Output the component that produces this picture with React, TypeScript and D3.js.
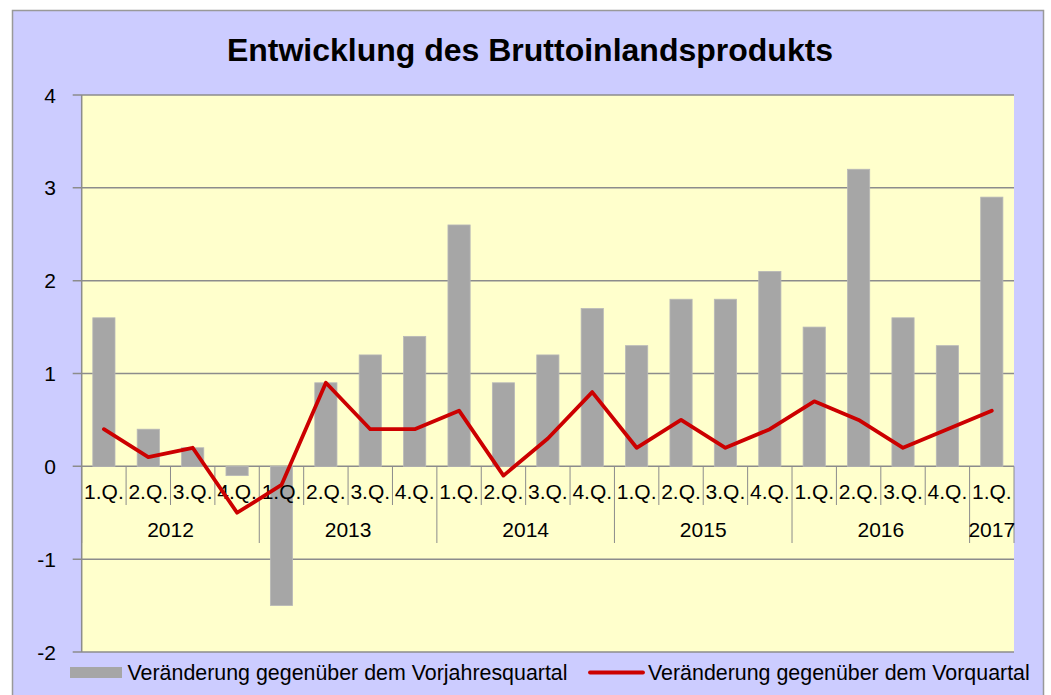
import React from "react";
import * as d3 from "d3";

const years = ["2012", "2013", "2014", "2015", "2016", "2017"];
const quarterLabels = ["1.Q.", "2.Q.", "3.Q.", "4.Q."];
const categories = [
  "2012-1", "2012-2", "2012-3", "2012-4",
  "2013-1", "2013-2", "2013-3", "2013-4",
  "2014-1", "2014-2", "2014-3", "2014-4",
  "2015-1", "2015-2", "2015-3", "2015-4",
  "2016-1", "2016-2", "2016-3", "2016-4",
  "2017-1",
];
const vorjahr = [1.6, 0.4, 0.2, -0.1, -1.5, 0.9, 1.2, 1.4, 2.6, 0.9, 1.2, 1.7, 1.3, 1.8, 1.8, 2.1, 1.5, 3.2, 1.6, 1.3, 2.9];
const vorquartal = [0.4, 0.1, 0.2, -0.5, -0.2, 0.9, 0.4, 0.4, 0.6, -0.1, 0.3, 0.8, 0.2, 0.5, 0.2, 0.4, 0.7, 0.5, 0.2, 0.4, 0.6];
const yTicks = [-2, -1, 0, 1, 2, 3, 4];
const title = "Entwicklung des Bruttoinlandsprodukts";
const legendBar = "Veränderung gegenüber dem Vorjahresquartal";
const legendLine = "Veränderung gegenüber dem Vorquartal";

const W = 1051;
const H = 695;
const FONT = "'Liberation Sans', Arial, sans-serif";

export default function App() {
  const left = 81.7, right = 1014, top = 95, bottom = 652;
  const x = d3.scaleBand<string>().domain(categories).range([left, right]).paddingInner(0).paddingOuter(0);
  const y = d3.scaleLinear().domain([-2, 4]).range([bottom, top]);
  const bw = x.bandwidth();
  const barW = bw * 0.5;
  const y0 = y(0);
  const line = d3.line<number>()
    .x((_, i) => (x(categories[i]) as number) + bw / 2)
    .y((d) => y(d));
  const gridColor = "#8c8c8c";

  const yearGroups = years.map((yr) => {
    const idx = categories.map((c, i) => (c.startsWith(yr) ? i : -1)).filter((i) => i >= 0);
    const x0 = x(categories[idx[0]]) as number;
    const x1 = (x(categories[idx[idx.length - 1]]) as number) + bw;
    return { yr, x0, x1 };
  });

  return (
    <svg width={W} height={H} style={{ position: "absolute", left: 0, top: 0, background: "#fff" }}>
      <rect x={12.5} y={10.5} width={1031} height={700} fill="#ccccff" stroke="#999" strokeWidth={1.5} />
      <text x={530} y={61} textAnchor="middle" fontFamily={FONT} fontWeight="bold" fontSize={32}>{title}</text>
      <rect x={left} y={top} width={right - left} height={bottom - top} fill="#ffffcc" />
      {yTicks.map((t) => (
        <g key={t}>
          <line x1={left - 9} x2={right} y1={y(t)} y2={y(t)} stroke={gridColor} strokeWidth={1.5} />
          <text x={56} y={y(t) + 7.5} textAnchor="end" fontFamily={FONT} fontSize={21}>{t}</text>
        </g>
      ))}
      {vorjahr.map((v, i) => (
        <rect key={i} x={(x(categories[i]) as number) + (bw - barW) / 2} y={Math.min(y(v), y0)} width={barW} height={Math.abs(y(v) - y0)} fill="#a6a6a6" stroke="#b8b8b8" strokeWidth={0.8} />
      ))}
      <line x1={left} x2={left} y1={top} y2={bottom} stroke={gridColor} strokeWidth={1.5} />
      {categories.map((c) => {
        const xx = x(c) as number;
        const isYear = c.endsWith("-1");
        return <line key={c} x1={xx} x2={xx} y1={y0} y2={isYear ? 543 : 505} stroke={gridColor} strokeWidth={1} />;
      })}
      <line x1={right} x2={right} y1={y0} y2={543} stroke={gridColor} strokeWidth={1} />
      {categories.map((c, i) => (
        <text key={c} x={(x(c) as number) + bw / 2} y={499} textAnchor="middle" fontFamily={FONT} fontSize={21}>{quarterLabels[i % 4]}</text>
      ))}
      {yearGroups.map((g) => (
        <text key={g.yr} x={(g.x0 + g.x1) / 2} y={537} textAnchor="middle" fontFamily={FONT} fontSize={21}>{g.yr}</text>
      ))}
      <path d={line(vorquartal) || ""} fill="none" stroke="#cc0000" strokeWidth={3.8} strokeLinejoin="round" strokeLinecap="round" />
      <rect x={70} y={667} width={52} height={11} fill="#a6a6a6" />
      <text x={127.5} y={680} fontFamily={FONT} fontSize={21.4}>{legendBar}</text>
      <line x1={590} x2={643} y1={672.5} y2={672.5} stroke="#cc0000" strokeWidth={3.8} strokeLinecap="round" />
      <text x={648} y={680} fontFamily={FONT} fontSize={21.4}>{legendLine}</text>
    </svg>
  );
}
